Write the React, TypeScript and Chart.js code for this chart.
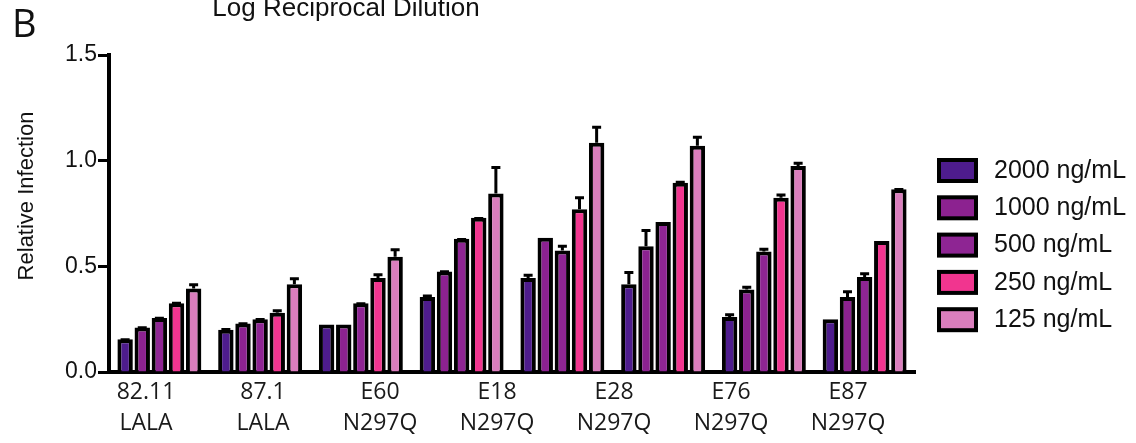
import { useEffect, useRef } from "react";
import { Chart, registerables } from "chart.js";

Chart.register(...registerables);

// ---- data ----
const GROUPS = ["G1", "G2", "G3", "G4", "G5", "G6", "G7", "G8"];
const X_LABELS: string[][] = [
  ["82.11", "LALA"],
  ["87.1", "LALA"],
  ["E60", "N297Q"],
  ["E18", "N297Q"],
  ["E28", "N297Q"],
  ["E76", "N297Q"],
  ["E87", "N297Q"],
];
const SERIES_NAMES = ["2000 ng/mL", "1000 ng/mL", "500 ng/mL", "250 ng/mL", "125 ng/mL"];
const SERIES_COLORS = ["#4E1C8D", "#8C2290", "#8E2593", "#F1358F", "#DA7EBD"];

const V2000 = [0.155, 0.2, 0.225, 0.355, 0.445, 0.415, 0.26, 0.25];
const V1000 = [0.21, 0.23, 0.225, 0.475, 0.635, 0.595, 0.39, 0.355];
const V500 = [0.255, 0.25, 0.325, 0.63, 0.575, 0.71, 0.57, 0.45];
const V250 = [0.325, 0.28, 0.445, 0.73, 0.77, 0.895, 0.825, 0.62];
const V125 = [0.395, 0.415, 0.545, 0.845, 1.085, 1.07, 0.975, 0.865];

const E2000 = [0.005, 0.008, 0, 0.012, 0.02, 0.063, 0.018, 0];
const E1000 = [0.006, 0.005, 0, 0.006, 0, 0.082, 0.018, 0.032];
const E500 = [0.006, 0.005, 0.005, 0.004, 0.027, 0, 0.018, 0.022];
const E250 = [0.008, 0.017, 0.022, 0.004, 0.062, 0.01, 0.02, 0];
const E125 = [0.025, 0.033, 0.04, 0.13, 0.08, 0.048, 0.02, 0.006];

const Y_TICKS = [0, 0.5, 1.0, 1.5];
const TITLE = "Log Reciprocal Dilution";
const PANEL = "B";
const Y_TITLE = "Relative Infection";

const VALUES = [V2000, V1000, V500, V250, V125];
const ERRORS = [E2000, E1000, E500, E250, E125];

const decorPlugin = {
  id: "decor",
  afterDatasetsDraw(chart: any) {
    const ctx = chart.ctx;
    const y = chart.scales.y;
    ctx.save();
    ctx.strokeStyle = "#000";
    ctx.lineWidth = 3;
    ctx.lineCap = "butt";
    chart.data.datasets.forEach((ds: any, di: number) => {
      const meta = chart.getDatasetMeta(di);
      meta.data.forEach((el: any, i: number) => {
        const err = ds.errors[i];
        if (!err) return;
        const top = y.getPixelForValue(ds.data[i] + err);
        ctx.beginPath();
        ctx.moveTo(el.x, el.y);
        ctx.lineTo(el.x, top + 1);
        ctx.moveTo(el.x - 4.5, top + 1.5);
        ctx.lineTo(el.x + 4.5, top + 1.5);
        ctx.stroke();
      });
    });
    ctx.restore();
  },
  afterDraw(chart: any) {
    const ctx = chart.ctx;
    const area = chart.chartArea;
    ctx.save();
    ctx.fillStyle = "#111";
    // panel letter
    ctx.font = "38px 'Open Sans'";
    ctx.textAlign = "left";
    ctx.textBaseline = "alphabetic";
    ctx.fillText(PANEL, 12, 37);
    // title (clipped at the top in the reference)
    ctx.font = "26px 'Liberation Sans'";
    ctx.textAlign = "center";
    ctx.fillText(TITLE, 346, 16);
    // y title
    ctx.save();
    ctx.translate(27, 196);
    ctx.rotate(-Math.PI / 2);
    ctx.font = "22px 'Liberation Sans'";
    ctx.textAlign = "center";
    ctx.textBaseline = "middle";
    ctx.fillText(Y_TITLE, 0, 0);
    ctx.restore();
    // legend
    const lx = area.right + 22;
    const ly0 = 158;
    const step = 37.3;
    chart.data.datasets.forEach((ds: any, i: number) => {
      const top = ly0 + i * step;
      ctx.fillStyle = "#000";
      ctx.fillRect(lx, top, 41, 25);
      ctx.fillStyle = ds.backgroundColor;
      ctx.fillRect(lx + 4, top + 4, 33, 17);
      ctx.fillStyle = "#111";
      ctx.font = "25px 'Liberation Sans'";
      ctx.textAlign = "left";
      ctx.textBaseline = "middle";
      ctx.fillText(ds.label, lx + 57, top + 13);
    });
    ctx.restore();
  },
};

export default function App() {
  const ref = useRef<HTMLCanvasElement | null>(null);
  useEffect(() => {
    if (!ref.current) return;
    const chart = new Chart(ref.current, {
      type: "bar",
      data: {
        labels: GROUPS,
        datasets: SERIES_NAMES.map((name, i) => ({
          label: name,
          data: VALUES[i],
          errors: ERRORS[i],
          backgroundColor: SERIES_COLORS[i],
          borderColor: "#000",
          borderWidth: 4,
          borderSkipped: "start",
          categoryPercentage: 0.85,
          barPercentage: 0.9,
          xAxisID: "x",
        })) as any,
      },
      options: {
        responsive: false,
        animation: false,
        layout: { padding: { top: 55, right: 221, bottom: 0, left: 0 } },
        plugins: {
          legend: { display: false },
          tooltip: { enabled: false },
        },
        scales: {
          x: {
            type: "category",
            position: "bottom",
            weight: 0,
            offset: true,
            grid: { display: false, drawTicks: false },
            ticks: { display: false },
            border: { display: true, color: "#000", width: 4 },
            afterFit: (s: any) => {
              s.height = 0;
            },
          },
          x2: {
            type: "linear",
            position: "bottom",
            weight: 1,
            offset: false,
            min: -0.316,
            max: 6.572,
            grid: { display: false, drawTicks: false, offset: false },
            border: { display: false },
            afterBuildTicks: (s: any) => {
              s.ticks = X_LABELS.map((_, i) => ({ value: i }));
            },
            afterFit: (s: any) => {
              s.height = 71;
            },
            ticks: {
              autoSkip: false,
              maxRotation: 0,
              minRotation: 0,
              padding: 5,
              color: "#1a1a1a",
              font: { family: "'Open Sans'", size: 23, lineHeight: 1.35 },
              callback: (_v: any, i: number) => X_LABELS[i],
            },
          },
          y: {
            min: 0,
            max: 1.5,
            afterBuildTicks: (s: any) => {
              s.ticks = Y_TICKS.map((v) => ({ value: v }));
            },
            grid: {
              drawOnChartArea: false,
              drawTicks: true,
              tickLength: 11,
              tickWidth: 3,
              tickColor: "#000",
              color: "#000",
            },
            border: { color: "#000", width: 4 },
            ticks: {
              padding: 1,
              color: "#111",
              font: { family: "'Liberation Sans'", size: 23 },
              callback: (v: any) => Number(v).toFixed(1),
            },
            afterFit: (s: any) => {
              s.width = 109;
            },
          },
        },
      },
      plugins: [decorPlugin],
    } as any);
    return () => chart.destroy();
  }, []);
  return (
    <div style={{ position: "absolute", left: 0, top: 0, width: 1136, height: 443, background: "#fff" }}>
      <canvas ref={ref} width={1136} height={443} style={{ display: "block" }} />
    </div>
  );
}
